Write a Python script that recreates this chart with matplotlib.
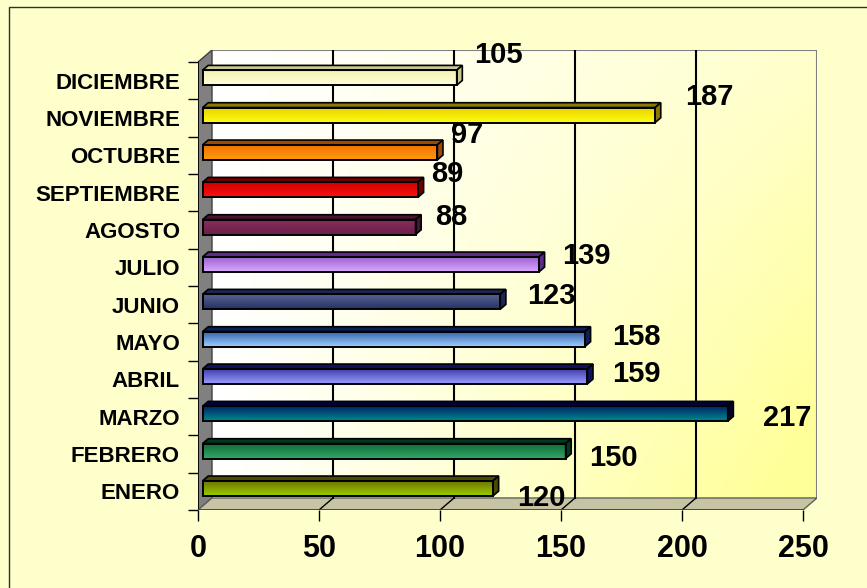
import numpy as np
import matplotlib.pyplot as plt
from matplotlib.patches import Rectangle, Polygon
from matplotlib.colors import to_rgb

plt.rcParams['font.family'] = ['Liberation Sans', 'DejaVu Sans']
plt.rcParams['font.weight'] = 'bold'

meses = ['ENERO', 'FEBRERO', 'MARZO', 'ABRIL', 'MAYO', 'JUNIO', 'JULIO',
         'AGOSTO', 'SEPTIEMBRE', 'OCTUBRE', 'NOVIEMBRE', 'DICIEMBRE']
valores = [120, 150, 217, 159, 158, 123, 139, 88, 89, 97, 187, 105]
ticks_x = [0, 50, 100, 150, 200, 250]

# colores de cada barra: cara frontal (arriba -> abajo) y tapa superior
color_arriba = ['#6b7000', '#0b6a36', '#001c66', '#3a3aa8', '#2f5fa8', '#5b6696',
                '#9a5ccc', '#8a2d5e', '#c80000', '#f07000', '#e8d000', '#f4f0b0']
color_abajo = ['#9ccc00', '#35a868', '#008a8a', '#9c9cff', '#a0d0ff', '#263264',
               '#dcaaff', '#6a1f48', '#ff1010', '#ff9a10', '#ffff10', '#ffffd8']
color_tapa = ['#4a4a00', '#003a1c', '#00003c', '#101060', '#0c2058', '#1c2650',
              '#5c2c88', '#4c1232', '#700000', '#a04a00', '#8a7a00', '#c8c890']

# desplazamiento de cada etiqueta desde el extremo de su barra (pixeles)
desp_etiqueta = [(48, -7), (48, -4), (59, -1), (49, 5), (51, 5), (51, 9),
                 (47, 11), (36, 13), (29, 19), (30, 20), (54, 21), (42, 26)]

W, H = 867, 588
SX = 605 / 250.0      # pixeles por unidad en x
SY = 447 / 12.0       # pixeles por categoria
DX = 14 / SX          # profundidad del grafico 3D
DY = 12 / SY
n = len(meses)

fig = plt.figure(figsize=(W / 100, H / 100), dpi=100, facecolor='#ffffcc')
ax = fig.add_axes([198 / W, (H - 510) / H, (605 + 14) / W, (448 + 12) / H])
ax.patch.set_visible(False)
for s in ax.spines.values():
    s.set_visible(False)

# pared del fondo con degradado blanco -> amarillo
gx, gy = np.meshgrid(np.linspace(0, 1, 300), np.linspace(0, 1, 200))
t = np.clip(gx ** 1.1 * (0.5 + 0.6 * gy), 0, 1)[..., None]
blanco = np.array(to_rgb('#ffffff'))
amarillo = np.array(to_rgb('#ffff99'))
grad = blanco * (1 - t) + amarillo * t
ax.imshow(grad, extent=[DX, 250 + DX, DY, n + DY], origin='upper',
          aspect='auto', zorder=0, interpolation='bilinear')
ax.plot([DX, 250 + DX, 250 + DX], [n + DY, n + DY, DY], color='#808080', lw=1.5, zorder=1)

# pared izquierda y piso
ax.add_patch(Polygon([(0, 0), (DX, DY), (DX, n + DY), (0, n)], closed=True,
                     facecolor='#808080', edgecolor='#404040', lw=1, zorder=1))
ax.add_patch(Polygon([(0, 0), (250, 0), (250 + DX, DY), (DX, DY)], closed=True,
                     facecolor='#c6c4a4', edgecolor='#606060', lw=1, zorder=1))

# lineas de division en la pared y el piso
for xv in ticks_x[1:-1]:
    ax.plot([xv + DX, xv + DX], [DY, n + DY], color='black', lw=1.5, zorder=1.5)
    ax.plot([xv, xv + DX], [0, DY], color='black', lw=1, zorder=1.5)
ax.plot([0, 0], [0, n], color='black', lw=1.2, zorder=2)
ax.plot([0, 250], [0, 0], color='#404040', lw=1.2, zorder=2)

# barras 3D
f0 = 0.33          # posicion de la barra en la profundidad
bd = 0.40          # grosor de la barra en profundidad
h = 15 / SY        # alto de la cara frontal
for i, v in enumerate(valores):
    c = i + 0.5
    x0 = f0 * DX
    y0 = c - h / 2 + f0 * DY - 1 / SY
    y1 = y0 + h
    ex, ey = bd * DX, bd * DY
    col = np.linspace(0, 1, 50)[:, None, None]
    face = np.array(to_rgb(color_arriba[i])) * (1 - col) + np.array(to_rgb(color_abajo[i])) * col
    ax.imshow(face, extent=[x0, x0 + v, y0, y1], origin='upper', aspect='auto',
              zorder=3, interpolation='bilinear')
    ax.add_patch(Rectangle((x0, y0), v, h, fill=False, edgecolor='black', lw=1.4, zorder=3.2))
    ax.add_patch(Polygon([(x0, y1), (x0 + v, y1), (x0 + v + ex, y1 + ey), (x0 + ex, y1 + ey)],
                         closed=True, facecolor=color_tapa[i], edgecolor='black', lw=1.2, zorder=3.1))
    ax.add_patch(Polygon([(x0 + v, y0), (x0 + v + ex, y0 + ey), (x0 + v + ex, y1 + ey), (x0 + v, y1)],
                         closed=True, facecolor=color_tapa[i], edgecolor='black', lw=1.2, zorder=3.1))
    ax.annotate(str(v), xy=(x0 + v, c), xytext=desp_etiqueta[i], textcoords='offset pixels',
                ha='center', va='center', fontsize=21, fontweight='bold', zorder=5,
                annotation_clip=False)

ax.set_xlim(0, 250 + DX)
ax.set_ylim(0, n + DY)

ax.set_xticks(ticks_x)
ax.set_xticklabels([str(v) for v in ticks_x])
ax.tick_params(axis='x', length=8, width=1, pad=9, labelsize=22)
ax.set_yticks(np.arange(n + 1))
ax.set_yticklabels([])
ax.set_yticks(np.arange(n) + 0.5, minor=True)
ax.set_yticklabels(meses, minor=True)
ax.tick_params(axis='y', which='major', length=7, width=1)
ax.tick_params(axis='y', which='minor', length=0, pad=13, labelsize=16)

# marco del area del grafico
fig.patches.append(Rectangle((9 / W, -0.1), 1.1, (H - 7) / H + 0.1, transform=fig.transFigure,
                             fill=False, edgecolor='#303030', lw=1, figure=fig))

fig.savefig('out.png', dpi=100, facecolor=fig.get_facecolor())
